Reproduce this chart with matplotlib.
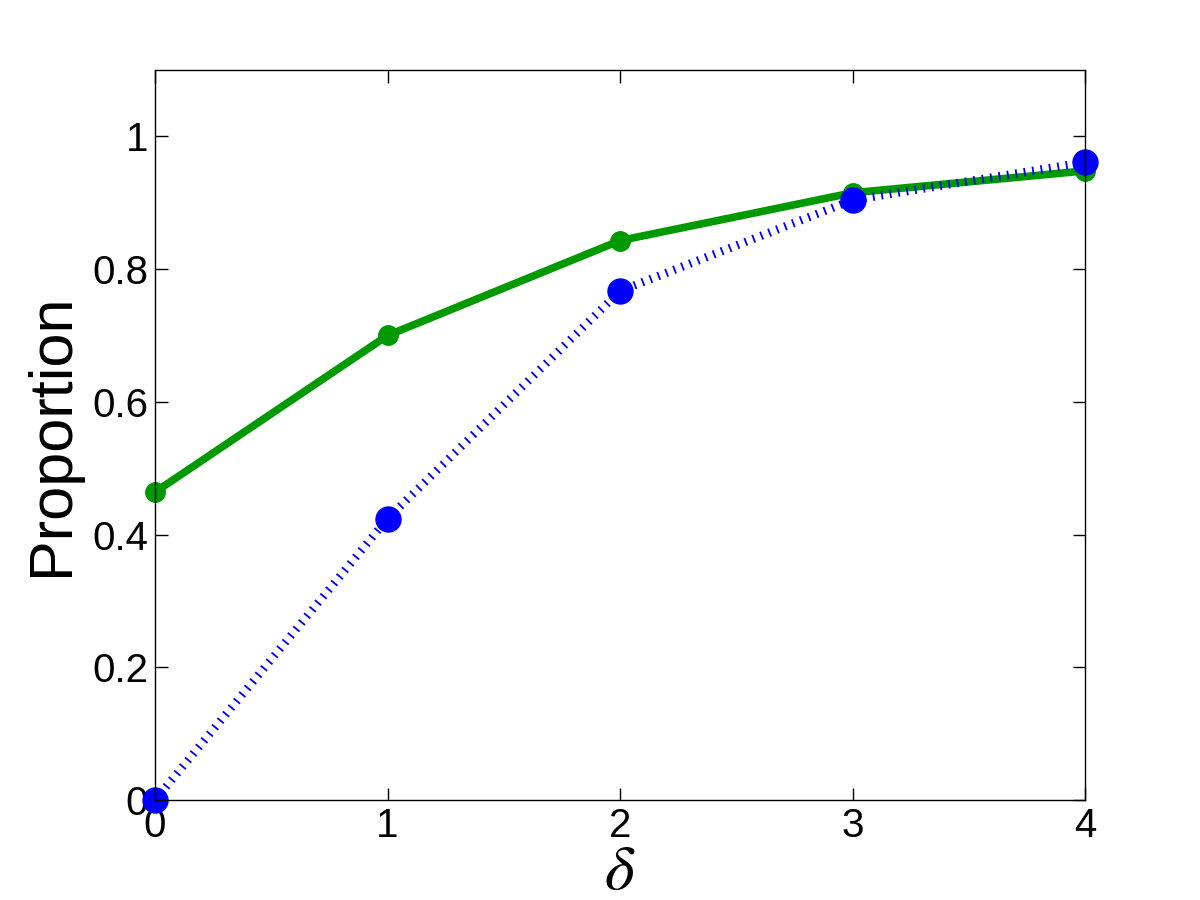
import matplotlib
matplotlib.use("Agg")
import matplotlib.pyplot as plt

plt.rcParams['font.family'] = ['Liberation Sans', 'DejaVu Sans']
plt.rcParams['mathtext.fontset'] = 'stix'

delta = [0, 1, 2, 3, 4]
green_vals = [0.464, 0.700, 0.843, 0.915, 0.948]
blue_vals = [0.0, 0.424, 0.767, 0.904, 0.961]
yticks = [0, 0.2, 0.4, 0.6, 0.8, 1]
ytick_labels = ['0', '0.2', '0.4', '0.6', '0.8', '1']

fig = plt.figure(figsize=(12, 9), dpi=100)
ax = fig.add_axes([0.1292, 0.1111, 0.7750, 0.8111])

ax.plot(delta, green_vals, color='#009900', lw=5.5, marker='o', ms=14,
        solid_joinstyle='round', clip_on=False)
ax.plot(delta, blue_vals, color='#0000ff', lw=6, linestyle=(0, (0.22, 0.8)),
        dash_capstyle='butt', marker='o', ms=18, clip_on=False)

ax.set_xlim(0, 4)
ax.set_ylim(0, 1.1)
ax.set_xticks(delta)
ax.set_yticks(yticks)
ax.set_yticklabels(ytick_labels)
ax.tick_params(direction='in', length=9, width=1, labelsize=29,
               top=True, right=True, pad=5)
for s in ax.spines.values():
    s.set_linewidth(1)

ax.set_ylabel('Proportion', fontsize=44, labelpad=8)
ax.set_xlabel(r'$\delta$', fontsize=46, labelpad=-2)

fig.savefig('out.png', dpi=100)
